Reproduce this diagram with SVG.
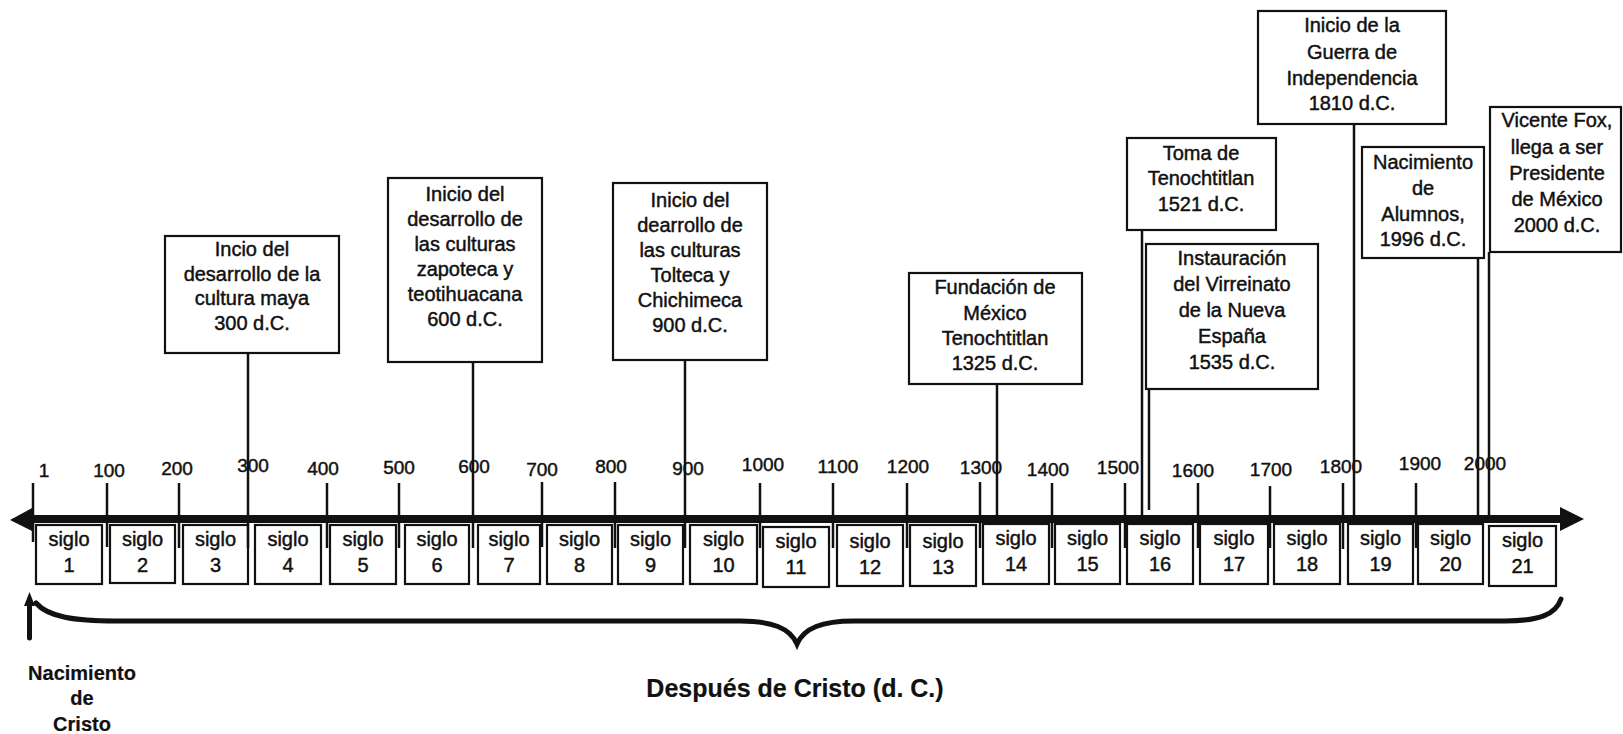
<svg xmlns="http://www.w3.org/2000/svg" width="1623" height="734" viewBox="0 0 1623 734">
<style>
text{font-family:"Liberation Sans",Arial,sans-serif;fill:#111;stroke:#111;stroke-width:0.45;}
.ev rect,.sg rect{fill:#fff;stroke:#111;stroke-width:2.2;}
.ev text{font-size:20px;text-anchor:middle;}
.sg text{font-size:20px;text-anchor:middle;}
.yr{font-size:19px;text-anchor:middle;}
.tick{stroke:#111;stroke-width:2.5;}
.conn line{stroke:#111;stroke-width:2.5;}
.bold{font-weight:bold;text-anchor:middle;stroke-width:0.2;}
</style>
<rect width="1623" height="734" fill="#fff"/>

<g id="axis">
<line x1="30" y1="519" x2="1563" y2="519" stroke="#111" stroke-width="8"/>
<polygon points="10,520 34,507 34,532" fill="#111"/>
<polygon points="1584,519 1560,507 1560,531" fill="#111"/>
<g class="tick">
<line x1="33" y1="483" x2="33" y2="542"/>
<line x1="107" y1="483" x2="107" y2="547"/>
<line x1="179" y1="483" x2="179" y2="548"/>
<line x1="327" y1="483" x2="327" y2="548"/>
<line x1="399" y1="483" x2="399" y2="548"/>
<line x1="542" y1="482" x2="542" y2="547"/>
<line x1="615" y1="482" x2="615" y2="548"/>
<line x1="760" y1="483" x2="760" y2="548"/>
<line x1="833" y1="483" x2="833" y2="548"/>
<line x1="907" y1="483" x2="907" y2="548"/>
<line x1="980" y1="482" x2="980" y2="548"/>
<line x1="1052" y1="483" x2="1052" y2="548"/>
<line x1="1125" y1="483" x2="1125" y2="548"/>
<line x1="1198" y1="483" x2="1198" y2="548"/>
<line x1="1270" y1="486" x2="1270" y2="548"/>
<line x1="1343" y1="483" x2="1343" y2="549"/>
<line x1="1416" y1="483" x2="1416" y2="548"/>
</g>
</g>

<g id="year-labels">
<text class="yr" x="44" y="477">1</text>
<text class="yr" x="109" y="477">100</text>
<text class="yr" x="177" y="475">200</text>
<text class="yr" x="253" y="472">300</text>
<text class="yr" x="323" y="475">400</text>
<text class="yr" x="399" y="474">500</text>
<text class="yr" x="474" y="473">600</text>
<text class="yr" x="542" y="476">700</text>
<text class="yr" x="611" y="473">800</text>
<text class="yr" x="688" y="475">900</text>
<text class="yr" x="763" y="471">1000</text>
<text class="yr" x="838" y="473">1100</text>
<text class="yr" x="908" y="473">1200</text>
<text class="yr" x="981" y="474">1300</text>
<text class="yr" x="1048" y="476">1400</text>
<text class="yr" x="1118" y="474">1500</text>
<text class="yr" x="1193" y="477">1600</text>
<text class="yr" x="1271" y="476">1700</text>
<text class="yr" x="1341" y="473">1800</text>
<text class="yr" x="1420" y="470">1900</text>
<text class="yr" x="1485" y="470">2000</text>
</g>

<g id="siglo-1" class="sg"><rect x="36" y="525" width="66" height="59"/><text x="69" y="546">siglo</text><text x="69" y="572">1</text></g>
<g id="siglo-2" class="sg"><rect x="110" y="525" width="65" height="58"/><text x="142.5" y="546">siglo</text><text x="142.5" y="572">2</text></g>
<g id="siglo-3" class="sg"><rect x="183" y="525" width="65" height="59"/><text x="215.5" y="546">siglo</text><text x="215.5" y="572">3</text></g>
<g id="siglo-4" class="sg"><rect x="255" y="525" width="66" height="59"/><text x="288" y="546">siglo</text><text x="288" y="572">4</text></g>
<g id="siglo-5" class="sg"><rect x="330" y="525" width="66" height="59"/><text x="363" y="546">siglo</text><text x="363" y="572">5</text></g>
<g id="siglo-6" class="sg"><rect x="405" y="525" width="64" height="59"/><text x="437" y="546">siglo</text><text x="437" y="572">6</text></g>
<g id="siglo-7" class="sg"><rect x="478" y="525" width="62" height="59"/><text x="509" y="546">siglo</text><text x="509" y="572">7</text></g>
<g id="siglo-8" class="sg"><rect x="547" y="525" width="65" height="59"/><text x="579.5" y="546">siglo</text><text x="579.5" y="572">8</text></g>
<g id="siglo-9" class="sg"><rect x="618" y="525" width="65" height="59"/><text x="650.5" y="546">siglo</text><text x="650.5" y="572">9</text></g>
<g id="siglo-10" class="sg"><rect x="690" y="525" width="67" height="59"/><text x="723.5" y="546">siglo</text><text x="723.5" y="572">10</text></g>
<g id="siglo-11" class="sg"><rect x="763" y="527" width="66" height="60"/><text x="796" y="548">siglo</text><text x="796" y="574">11</text></g>
<g id="siglo-12" class="sg"><rect x="837" y="525" width="66" height="61"/><text x="870" y="548">siglo</text><text x="870" y="574">12</text></g>
<g id="siglo-13" class="sg"><rect x="910" y="525" width="66" height="61"/><text x="943" y="548">siglo</text><text x="943" y="574">13</text></g>
<g id="siglo-14" class="sg"><rect x="983" y="524" width="66" height="60"/><text x="1016" y="545">siglo</text><text x="1016" y="571">14</text></g>
<g id="siglo-15" class="sg"><rect x="1055" y="524" width="65" height="60"/><text x="1087.5" y="545">siglo</text><text x="1087.5" y="571">15</text></g>
<g id="siglo-16" class="sg"><rect x="1127" y="524" width="66" height="60"/><text x="1160" y="545">siglo</text><text x="1160" y="571">16</text></g>
<g id="siglo-17" class="sg"><rect x="1200" y="524" width="68" height="60"/><text x="1234" y="545">siglo</text><text x="1234" y="571">17</text></g>
<g id="siglo-18" class="sg"><rect x="1274" y="524" width="66" height="60"/><text x="1307" y="545">siglo</text><text x="1307" y="571">18</text></g>
<g id="siglo-19" class="sg"><rect x="1348" y="524" width="65" height="60"/><text x="1380.5" y="545">siglo</text><text x="1380.5" y="571">19</text></g>
<g id="siglo-20" class="sg"><rect x="1418" y="524" width="65" height="60"/><text x="1450.5" y="545">siglo</text><text x="1450.5" y="571">20</text></g>
<g id="siglo-21" class="sg"><rect x="1489" y="526" width="67" height="60"/><text x="1522.5" y="547">siglo</text><text x="1522.5" y="573">21</text></g>

<g id="connectors" class="conn">
<line x1="248" y1="353" x2="248" y2="548"/>
<line x1="473" y1="362" x2="473" y2="548"/>
<line x1="685" y1="360" x2="685" y2="548"/>
<line x1="997" y1="384" x2="997" y2="519"/>
<line x1="1142" y1="230" x2="1142" y2="519"/>
<line x1="1149" y1="389" x2="1149" y2="510"/>
<line x1="1354" y1="124" x2="1354" y2="519"/>
<line x1="1478" y1="258" x2="1478" y2="519"/>
<line x1="1489" y1="252" x2="1489" y2="519"/>
</g>

<g id="ev-300" class="ev"><rect x="165" y="236" width="174" height="117"/>
<text x="252" y="256">Incio del</text><text x="252" y="281">desarrollo de la</text><text x="252" y="305">cultura maya</text><text x="252" y="330">300 d.C.</text></g>
<g id="ev-600" class="ev"><rect x="388" y="178" width="154" height="184"/>
<text x="465" y="201">Inicio del</text><text x="465" y="226">desarrollo de</text><text x="465" y="251">las culturas</text><text x="465" y="276">zapoteca y</text><text x="465" y="301">teotihuacana</text><text x="465" y="326">600 d.C.</text></g>
<g id="ev-900" class="ev"><rect x="613" y="183" width="154" height="177"/>
<text x="690" y="207">Inicio del</text><text x="690" y="232">dearrollo de</text><text x="690" y="257">las culturas</text><text x="690" y="282">Tolteca y</text><text x="690" y="307">Chichimeca</text><text x="690" y="332">900 d.C.</text></g>
<g id="ev-1325" class="ev"><rect x="909" y="273" width="173" height="111"/>
<text x="995" y="294">Fundación de</text><text x="995" y="320">México</text><text x="995" y="345">Tenochtitlan</text><text x="995" y="370">1325 d.C.</text></g>
<g id="ev-1521" class="ev"><rect x="1127" y="138" width="149" height="92"/>
<text x="1201" y="160">Toma de</text><text x="1201" y="185">Tenochtitlan</text><text x="1201" y="211">1521 d.C.</text></g>
<g id="ev-1535" class="ev"><rect x="1146" y="244" width="172" height="145"/>
<text x="1232" y="265">Instauración</text><text x="1232" y="291">del Virreinato</text><text x="1232" y="317">de la Nueva</text><text x="1232" y="343">España</text><text x="1232" y="369">1535 d.C.</text></g>
<g id="ev-1810" class="ev"><rect x="1258" y="11" width="188" height="113"/>
<text x="1352" y="32">Inicio de la</text><text x="1352" y="59">Guerra de</text><text x="1352" y="85">Independencia</text><text x="1352" y="110">1810 d.C.</text></g>
<g id="ev-1996" class="ev"><rect x="1362" y="147" width="122" height="111"/>
<text x="1423" y="169">Nacimiento</text><text x="1423" y="195">de</text><text x="1423" y="221">Alumnos,</text><text x="1423" y="246">1996 d.C.</text></g>
<g id="ev-2000" class="ev"><rect x="1490" y="107" width="131" height="145"/>
<text x="1557" y="127">Vicente Fox,</text><text x="1557" y="154">llega a ser</text><text x="1557" y="180">Presidente</text><text x="1557" y="206">de México</text><text x="1557" y="232">2000 d.C.</text></g>

<g id="brace">
<path d="M36,603 C48,617 75,621 115,621 L740,621 C772,621 790,628 797,644 C804,628 822,621 854,621 L1505,621 C1540,621 1556,614 1561,599" fill="none" stroke="#111" stroke-width="5" stroke-linecap="round"/>
</g>
<g id="birth-arrow">
<line x1="29.5" y1="638" x2="29.5" y2="603" stroke="#111" stroke-width="5" stroke-linecap="round"/>
<polygon points="29.5,592 24,606 35,606" fill="#111"/>
</g>
<g id="nacimiento">
<text class="bold" x="82" y="680" font-size="20">Nacimiento</text>
<text class="bold" x="82" y="705" font-size="20">de</text>
<text class="bold" x="82" y="731" font-size="20">Cristo</text>
</g>
<g id="despues">
<text class="bold" x="795" y="697" font-size="25">Después de Cristo (d. C.)</text>
</g>
</svg>
